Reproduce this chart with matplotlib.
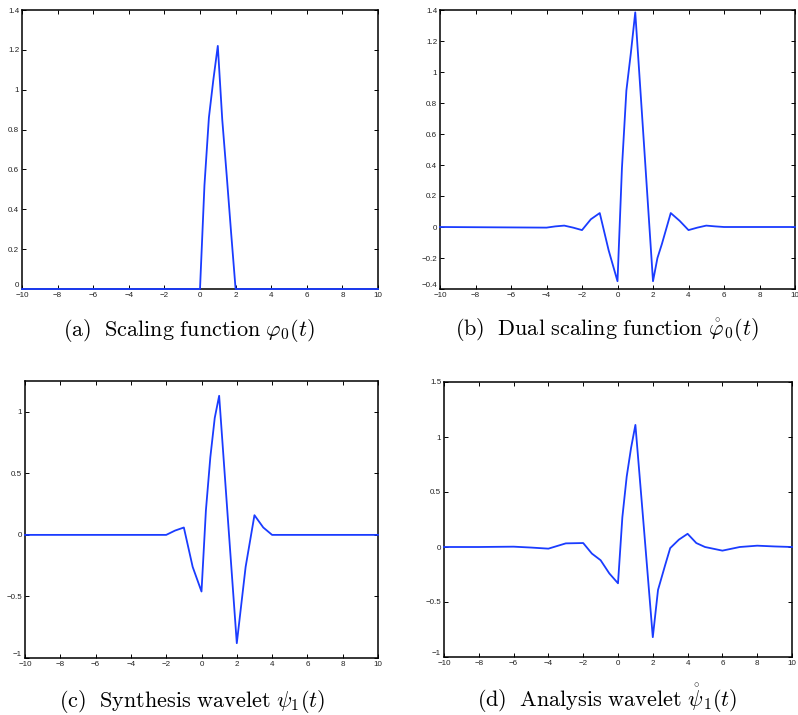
import numpy as np
import matplotlib
matplotlib.use("Agg")
from matplotlib import pyplot as plt

plt.rcParams['font.family'] = ['Liberation Sans', 'DejaVu Sans']
plt.rcParams['mathtext.fontset'] = 'cm'

# (a) scaling function
t_a = [-10, 0, 0.25, 0.5, 0.75, 1, 1.25, 1.5, 1.75, 2, 10]
phi_a = [0, 0, 0.52, 0.86, 1.05, 1.22, 0.85, 0.57, 0.28, 0, 0]

# (b) dual scaling function
t_b = [-10, -4, -3.5, -3, -2.5, -2, -1.5, -1, -0.5, 0, 0.25, 0.5, 0.75, 1,
       1.5, 2, 2.25, 2.5, 3, 3.5, 4, 4.5, 5, 5.5, 6, 10]
phi_b = [0, -0.004, 0.004, 0.009, -0.004, -0.02, 0.05, 0.09, -0.15, -0.35, 0.38,
         0.88, 1.12, 1.385, 0.52, -0.35, -0.2, -0.11, 0.09, 0.04, -0.02, -0.004,
         0.009, 0.004, 0, 0]

# (c) synthesis wavelet
t_c = [-10, -2, -1.5, -1, -0.5, 0, 0.25, 0.5, 0.75, 1, 1.5, 2, 2.5, 3, 3.5, 4, 10]
psi_c = [0, 0, 0.035, 0.06, -0.26, -0.46, 0.2, 0.63, 0.95, 1.13, 0.12, -0.88,
         -0.26, 0.16, 0.06, 0, 0]

# (d) analysis wavelet
t_d = [-10, -8, -6, -5, -4, -3, -2, -1.5, -1, -0.5, 0, 0.25, 0.5, 0.75, 1, 1.5,
       2, 2.3, 2.7, 3, 3.5, 4, 4.5, 5, 6, 7, 8, 9, 10]
psi_d = [0, 0, 0.003, -0.005, -0.015, 0.033, 0.036, -0.06, -0.12, -0.24, -0.33,
         0.27, 0.64, 0.9, 1.11, 0.15, -0.82, -0.39, -0.17, -0.01, 0.067, 0.12,
         0.036, 0.0, -0.033, 0.0, 0.012, 0.005, 0]

captions = [r'$\mathrm{(a)\ \ Scaling\ function\ }\varphi_0(t)$',
            r'$\mathrm{(b)\ \ Dual\ scaling\ function\ }\mathring{\varphi}_0(t)$',
            r'$\mathrm{(c)\ \ Synthesis\ wavelet\ }\psi_1(t)$',
            r'$\mathrm{(d)\ \ Analysis\ wavelet\ }\mathring{\psi}_1(t)$']

fig = plt.figure(figsize=(7.98, 7.15), dpi=100)
W, H = 798.0, 715.0

# axes boxes in pixels: left, right, top, bottom
boxes = [(22, 378, 10, 289), (440, 795, 10, 289),
         (25, 378, 381, 658), (444, 792, 382, 657)]
ylims = [(0, 1.4), (-0.4, 1.4), (-1, 1.25), (-1, 1.5)]
yticks = [np.arange(0, 1.41, 0.2), np.arange(-0.4, 1.41, 0.2),
          [-1, -0.5, 0, 0.5, 1], [-1, -0.5, 0, 0.5, 1, 1.5]]
ylabels = [['0', '0.2', '0.4', '0.6', '0.8', '1', '1.2', '1.4'],
           ['\u22120.4', '\u22120.2', '0', '0.2', '0.4', '0.6', '0.8', '1', '1.2', '1.4'],
           ['\u22121', '\u22120.5', '0', '0.5', '1'],
           ['\u22121', '\u22120.5', '0', '0.5', '1', '1.5']]
data = [(t_a, phi_a), (t_b, phi_b), (t_c, psi_c), (t_d, psi_d)]
cap_pos = [(189, 336), (607, 336), (192, 707), (607, 707)]

xt = [-10, -8, -6, -4, -2, 0, 2, 4, 6, 8, 10]
xl = [str(v).replace('-', '\u2212') for v in xt]

for i in range(4):
    l, r, tp, b = boxes[i]
    ax = fig.add_axes([l / W, 1 - b / H, (r - l) / W, (b - tp) / H])
    t, y = data[i]
    ax.plot(t, y, color='#1a3cff', lw=1.3, clip_on=False, zorder=3)
    ax.set_xlim(-10, 10)
    ax.set_ylim(*ylims[i])
    ax.set_xticks(xt)
    ax.set_xticklabels(xl)
    ax.set_yticks(yticks[i])
    ax.set_yticklabels(ylabels[i])
    ax.tick_params(direction='in', length=3, width=0.7, labelsize=5.8, pad=2,
                   top=True, right=True, colors='black', labelcolor='#222222')
    # lowest y label sits a bit higher, like the reference
    ax.get_yticklabels()[0].set_va('bottom')
    for s in ax.spines.values():
        s.set_linewidth(1.1)
    fig.text(cap_pos[i][0] / W, 1 - cap_pos[i][1] / H, captions[i],
             ha='center', va='baseline', fontsize=16)

fig.savefig('out.png', dpi=100)
